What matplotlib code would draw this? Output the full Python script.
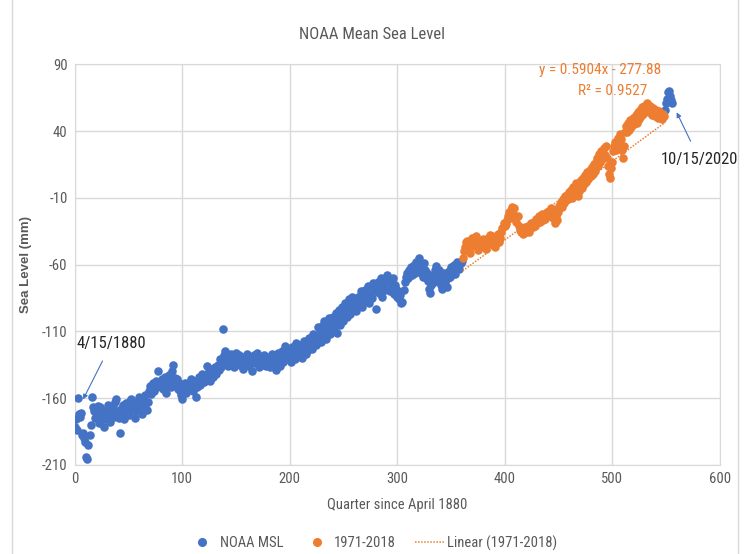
import numpy as np
import matplotlib
matplotlib.use("Agg")
import matplotlib.pyplot as plt
from matplotlib.lines import Line2D

plt.rcParams['font.family'] = ['Roboto Condensed', 'Archivo Narrow', 'PT Sans Narrow',
                               'Fira Sans Condensed', 'Carlito', 'Liberation Sans', 'DejaVu Sans']
plt.rcParams['axes.unicode_minus'] = False

# NOAA MSL, quarter 0 .. 360 (blue part before 1971)
msl_before = [
    -182, -176, -184, -160, -172, -174, -171, -188, -186, -190,
    -193, -204, -206, -195, -188, -180, -159, -167, -170, -175,
    -168, -172, -166, -179, -167, -175, -170, -182, -176, -169,
    -171, -165, -173, -178, -168, -172, -166, -174, -163, -161,
    -170, -175, -186, -168, -172, -165, -176, -169, -164, -171,
    -167, -173, -162, -161, -168, -166, -175, -170, -163, -167,
    -159, -165, -170, -172, -162, -166, -158, -169, -163, -155,
    -151, -157, -153, -149, -155, -150, -147, -152, -140, -148,
    -151, -146, -153, -149, -144, -156, -151, -147, -143, -149,
    -152, -140, -135, -145, -150, -146, -153, -149, -155, -158,
    -161, -155, -152, -149, -156, -150, -153, -148, -146, -151,
    -155, -150, -147, -159, -152, -149, -144, -150, -146, -142,
    -148, -143, -146, -136, -144, -140, -147, -141, -138, -144,
    -140, -137, -142, -135, -139, -131, -137, -133, -108, -128,
    -125, -133, -130, -136, -129, -134, -127, -132, -137, -131,
    -126, -134, -130, -128, -135, -132, -129, -138, -133, -130,
    -127, -131, -136, -129, -133, -140, -131, -128, -134, -130,
    -126, -132, -137, -129, -135, -131, -128, -133, -136, -130,
    -134, -129, -137, -131, -127, -135, -133, -139, -130, -126,
    -132, -136, -129, -125, -133, -130, -121, -128, -124, -131,
    -127, -133, -122, -129, -125, -131, -119, -126, -123, -128,
    -120, -125, -130, -117, -122, -127, -118, -124, -115, -121,
    -117, -123, -112, -119, -114, -120, -107, -116, -111, -118,
    -106, -113, -102, -110, -116, -104, -109, -100, -112, -105,
    -99, -108, -103, -96, -111, -101, -94, -105, -98, -92,
    -102, -95, -89, -99, -93, -86, -97, -90, -84, -94,
    -91, -87, -95, -91, -84, -88, -80, -92, -85, -83,
    -79, -87, -82, -76, -89, -81, -78, -85, -74, -80,
    -93, -79, -73, -81, -75, -70, -84, -77, -72, -79,
    -74, -68, -71, -80, -73, -76, -70, -82, -75, -78,
    -84, -80, -86, -83, -89, -88, -79, -73, -69, -66,
    -70, -64, -67, -62, -68, -65, -60, -66, -58, -63,
    -55, -61, -66, -63, -69, -59, -64, -70, -66, -72,
    -78, -81, -75, -68, -73, -64, -61, -67, -72, -64,
    -69, -75, -78, -71, -66, -73, -77, -70, -65, -69,
    -62, -66, -64, -60, -67, -62, -58, -61, -63, -59, -57,
]

# 1971-2018 part
msl_1971_2018 = [
    -55, -50, -47, -43, -42, -48, -45, -51, -44, -40,
    -46, -43, -39, -45, -49, -47, -42, -46, -44, -41,
    -46, -43, -48, -44, -40, -38, -42, -39, -45, -43,
    -47, -44, -41, -37, -43, -40, -36, -33, -29, -31,
    -30, -27, -24, -21, -25, -19, -17, -22, -18, -24,
    -28, -24, -31, -34, -36, -33, -37, -35, -32, -36,
    -34, -31, -36, -33, -29, -32, -28, -31, -26, -29,
    -27, -24, -28, -25, -22, -27, -23, -26, -21, -24,
    -20, -23, -18, -22, -25, -19, -29, -24, -27, -21,
    -16, -13, -17, -11, -14, -9, -12, -8, -11, -6,
    -9, -4, -10, -2, -7, 1, -3, -9, -5, 0,
    3, -3, 5, 0, 7, 2, 9, 4, 11, 6,
    13, 8, 15, 10, 17, 20, 14, 23, 17, 25,
    19, 27, 22, 29, 20, 14, 8, 5, 12, 17,
    25, 29, 32, 26, 35, 30, 38, 34, 26, 20,
    29, 39, 44, 39, 46, 41, 48, 43, 50, 45,
    48, 52, 46, 54, 49, 56, 51, 58, 53, 59,
    55, 61, 56, 54, 59, 55, 52, 57, 54, 51,
    56, 53, 50, 55, 52, 49, 53, 51,
]

# after 2018
msl_after = [56, 61, 64, 69, 70, 66, 63, 61]

slope = 0.5904
intercept = -277.88
eq_text = "y = 0.5904x - 277.88"
r2_text = "R² = 0.9527"

blue = "#4472C4"
orange = "#ED7D31"
gray = "#595959"
border = "#D9D9D9"

n1 = len(msl_before)
n2 = len(msl_1971_2018)
n3 = len(msl_after)
q_before = np.arange(n1)
q_mid = np.arange(n1, n1 + n2)
q_after = np.arange(n1 + n2, n1 + n2 + n3)

fig = plt.figure(figsize=(7.45, 5.54), dpi=100)
ax = fig.add_axes([0.100, 0.161, 0.866, 0.723])

ax.scatter(q_before, msl_before, s=38, color=blue, zorder=3, linewidths=0)
ax.scatter(q_after, msl_after, s=38, color=blue, zorder=3, linewidths=0)
ax.scatter(q_mid, msl_1971_2018, s=38, color=orange, zorder=3, linewidths=0)

xt = np.array([q_mid[0], q_mid[-1]])
ax.plot(xt, slope * xt + intercept, color=orange, lw=1.1, ls=(0, (1, 1)), zorder=4)

ax.set_xlim(0, 600)
ax.set_ylim(-210, 90)
ax.set_xticks(range(0, 601, 100))
ax.set_yticks(range(-210, 91, 50))
ax.grid(True, color=border, lw=1)
ax.set_axisbelow(True)
for s in ax.spines.values():
    s.set_color(border)
ax.tick_params(length=0, labelsize=10.5, colors=gray, pad=5)

ax.set_title("NOAA Mean Sea Level", fontsize=12, color=gray, pad=18, x=0.461)
ax.set_xlabel("Quarter since April 1880", fontsize=10.5, color=gray, labelpad=9)
ax.set_ylabel("Sea Level (mm)", fontsize=9.5, color=gray, fontweight="bold",
              family=["Liberation Sans", "DejaVu Sans"])
ax.yaxis.set_label_coords(-0.066, 0.5)

ax.text(489, 86, eq_text, color=orange, fontsize=11, ha="center", va="center")
ax.text(500, 70, r2_text, color=orange, fontsize=11, ha="center", va="center")

ax.annotate("4/15/1880", xy=(8, -161), xytext=(2, -119), fontsize=12, color="#262626",
            va="center", ha="left",
            arrowprops=dict(arrowstyle="-|>", color=blue, lw=0.8, mutation_scale=7,
                            shrinkA=6, shrinkB=0))
ax.annotate("10/15/2020", xy=(560, 54), xytext=(545, 19), fontsize=12, color="#262626",
            va="center", ha="left",
            arrowprops=dict(arrowstyle="-|>", color=blue, lw=0.8, mutation_scale=7,
                            shrinkA=6, shrinkB=0))

handles = [
    Line2D([], [], marker="o", ls="", color=blue, markersize=5.5),
    Line2D([], [], marker="o", ls="", color=orange, markersize=5.5),
    Line2D([], [], color=orange, lw=1.1, ls=(0, (1, 1))),
]
fig.legend(handles, ["NOAA MSL", "1971-2018", "Linear (1971-2018)"], loc="center",
           bbox_to_anchor=(0.5, 0.02), ncol=3, frameon=False, fontsize=10.5,
           handlelength=2.0, handletextpad=0.2, columnspacing=1.3, labelcolor=gray)

# chart-area border
fig.add_artist(Line2D([0.991, 0.991], [0, 1], color=border, lw=1, transform=fig.transFigure))
fig.add_artist(Line2D([0.016, 0.016], [0, 1], color=border, lw=1, transform=fig.transFigure))

fig.savefig("out.png", dpi=100)
